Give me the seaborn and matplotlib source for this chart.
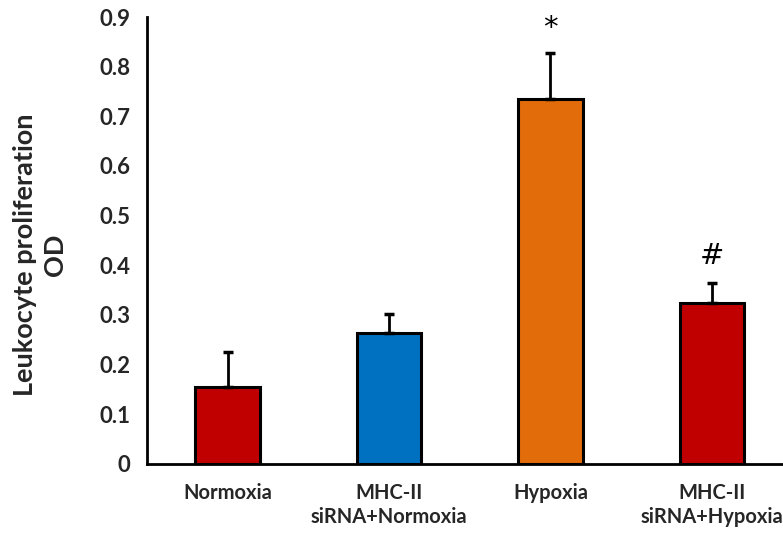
import numpy as np
import pandas as pd
import matplotlib
matplotlib.use("Agg")
import matplotlib.pyplot as plt
import seaborn as sns

# Data
groups = ["Normoxia", "MHC-II\nsiRNA+Normoxia", "Hypoxia", "MHC-II\nsiRNA+Hypoxia"]
od_mean = [0.154, 0.263, 0.735, 0.324]
od_err = [0.071, 0.038, 0.093, 0.040]
bar_colors = ["#C00000", "#0070C0", "#E36C0A", "#C00000"]
marks = ["", "", "*", "#"]
mark_y = [0, 0, 0.878, 0.418]

sns.set_theme(style="white")
plt.rcParams['font.family'] = ['Lato', 'DejaVu Sans']

df = pd.DataFrame({"group": groups, "od": od_mean})

fig = plt.figure(figsize=(7.83, 5.33), dpi=100)
ax = fig.add_axes([0.1877, 0.1295, 0.8244, 0.8386])

sns.barplot(data=df, x="group", y="od", hue="group", palette=bar_colors,
            width=0.4, edgecolor="black", linewidth=2.2, saturation=1,
            legend=False, ax=ax)

# upper-only error bars
ax.errorbar(range(len(groups)), od_mean, yerr=[np.zeros(len(od_err)), od_err],
            fmt="none", ecolor="black", elinewidth=2, capsize=3.5, capthick=2.5,
            zorder=1)

for i, m in enumerate(marks):
    if m:
        ax.text(i, mark_y[i], m, ha="center", va="center",
                fontsize=21, family=["DejaVu Sans"], color="black")

ax.set_xlim(-0.5, 3.5)
ax.set_ylim(0, 0.9)
ax.set_yticks(np.arange(0, 0.91, 0.1))
ax.set_yticklabels(["0"] + [f"{v:.1f}" for v in np.arange(0.1, 0.91, 0.1)])

# ticks between categories on the x axis
ax.set_xticks(np.arange(-0.5, 3.6, 1.0), minor=False)
ax.set_xticklabels([])
ax.set_xticks(range(len(groups)), minor=True)
ax.set_xticklabels(groups, minor=True)
ax.tick_params(axis="x", which="minor", length=0, pad=14)
ax.tick_params(axis="x", which="major", direction="out", length=6, width=2)
ax.tick_params(axis="y", direction="out", length=6, width=2, pad=6)

for lab in ax.get_xticklabels(minor=True) + ax.get_yticklabels():
    lab.set_fontweight("bold")
    lab.set_fontsize(14.5)
for lab in ax.get_yticklabels():
    lab.set_fontsize(16)

ax.set_xlabel("")
ax.set_ylabel("Leukocyte proliferation\nOD", fontsize=19.5, fontweight="bold",
              linespacing=1.3)
ax.yaxis.set_label_coords(-0.124, 0.468)

sns.despine(ax=ax)
for side in ["left", "bottom"]:
    ax.spines[side].set_linewidth(2)
    ax.spines[side].set_color("black")

fig.savefig("out.png", dpi=100)
